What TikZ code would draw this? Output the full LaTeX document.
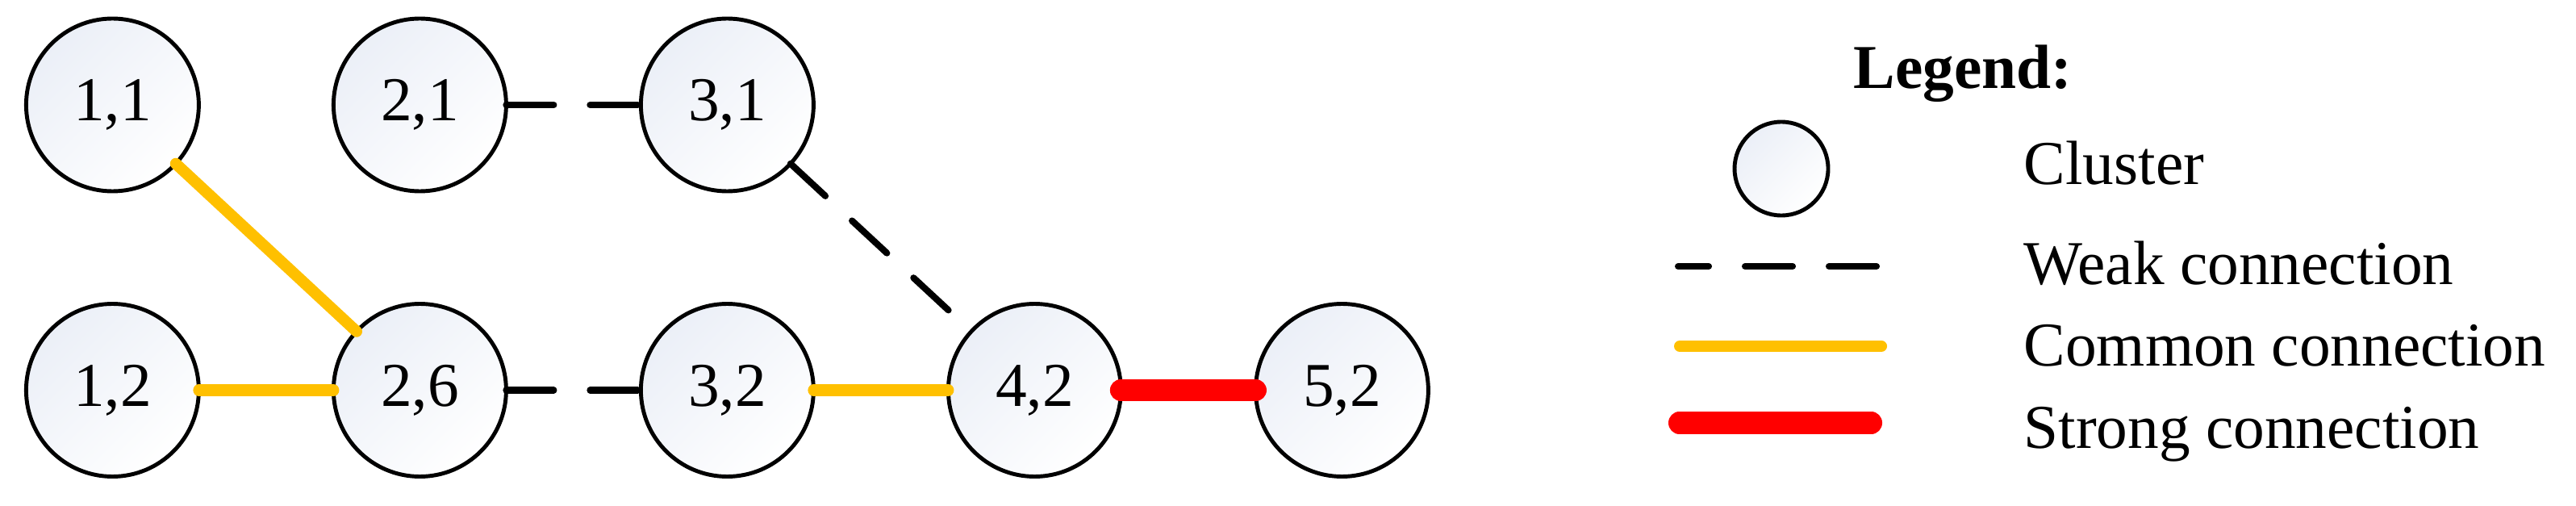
\documentclass[tikz,border=0pt]{standalone}
\usepackage{fontspec}
\setmainfont{Liberation Serif}
\definecolor{clusterfill}{HTML}{EBEFF7}
\definecolor{commonyellow}{HTML}{FFC000}

\begin{document}
\begin{tikzpicture}[
  cluster/.style={circle, draw, line width=1.4pt, minimum size=2.14cm, inner sep=0pt, outer sep=0pt,
    top color=clusterfill, bottom color=white, shading angle=45, font=\fontsize{22}{26}\selectfont},
  weak/.style={line width=2.3pt, line cap=round, dash pattern=on 0.59cm off 0.45cm},
  common/.style={line width=4pt, line cap=round, commonyellow},
  strong/.style={line width=7.7pt, line cap=round, red},
  legtext/.style={anchor=base west, inner sep=0pt, font=\fontsize{22}{26}\selectfont}
]
  \useasboundingbox (0,0) rectangle (31.93,6.26);
  % clusters
  \node[cluster] (c11) at (1.394,4.96) {1,1};
  \node[cluster] (c21) at (5.204,4.96) {2,1};
  \node[cluster] (c31) at (9.014,4.96) {3,1};
  \foreach \name/\lab [count=\i from 0] in {c12/{1,2}, c26/{2,6}, c32/{3,2}, c42/{4,2}, c52/{5,2}}
    \node[cluster] (\name) at ({1.394+3.81*\i},1.425) {\lab};
  % connections
  \draw[common] (c11) -- (c26);
  \draw[common] (c12) -- (c26);
  \draw[weak] (c21) -- (c31);
  \draw[weak] (c31) -- (c42);
  \draw[weak] (c26) -- (c32);
  \draw[common] (c32) -- (c42);
  \draw[strong] (c42) -- (c52);
  % legend
  \node[legtext, font=\bfseries\fontsize{22}{26}\selectfont] (legtitle) at (22.97,5.16) {Legend:};
  \node[cluster, minimum size=1.16cm] (legcluster) at (22.08,4.17) {};
  \node[legtext] (legclustertext) at (25.08,3.97) {Cluster};
  \coordinate (weakA) at (20.80,2.96);
  \coordinate (weakB) at (23.31,2.96);
  \draw[weak, dash phase=0.21cm] (weakA) -- (weakB);
  \node[legtext] (legweaktext) at (25.08,2.74) {Weak connection};
  \coordinate (commonA) at (20.82,1.97);
  \coordinate (commonB) at (23.32,1.97);
  \draw[common] (commonA) -- (commonB);
  \node[legtext] (legcommontext) at (25.08,1.73) {Common connection};
  \coordinate (strongA) at (20.815,1.02);
  \coordinate (strongB) at (23.195,1.02);
  \draw[strong] (strongA) -- (strongB);
  \node[legtext] (legstrongtext) at (25.08,0.71) {Strong connection};
\end{tikzpicture}
\end{document}
